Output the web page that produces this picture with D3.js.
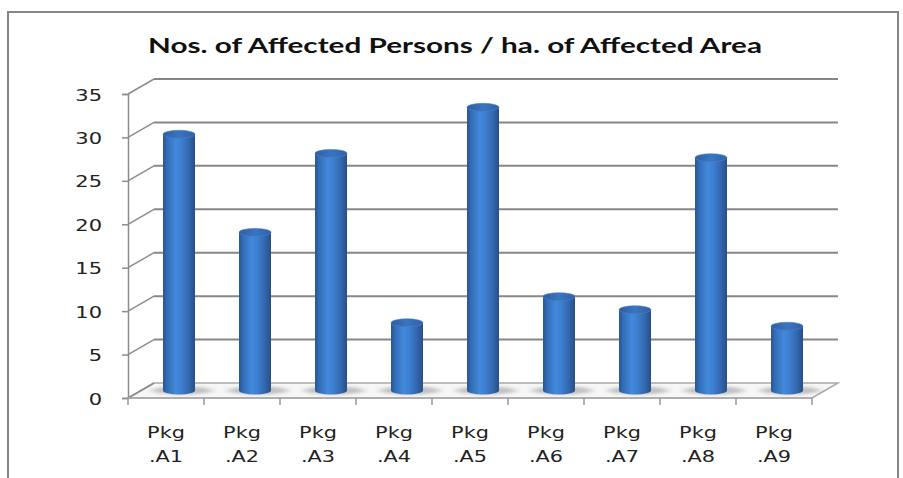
<!DOCTYPE html>
<html>
<head>
<meta charset="utf-8">
<script src="https://cdn.jsdelivr.net/npm/d3@7"></script>
<style>
  body { margin: 0; background: #fff; }
  svg { display: block; }
</style>
</head>
<body>
<div id="chart"></div>
<script>
// Chart data
const title = "Nos. of Affected Persons / ha. of Affected Area";
const categories = ["A1", "A2", "A3", "A4", "A5", "A6", "A7", "A8", "A9"];
const values = [29.5, 18.2, 27.3, 7.8, 32.6, 10.8, 9.3, 26.8, 7.4];
const yTicks = [0, 5, 10, 15, 20, 25, 30, 35];

// layout
let width = 903, height = 478;
let x0 = 128, x1 = 812;     // front floor edge
let yBase = 398, yTop = 94; // front axis 0 and 35
let dx = 26, dy = -15;      // depth offset of the back wall

let svg = d3.select("#chart").append("svg")
  .attr("width", width)
  .attr("height", height);

let defs = svg.append("defs");

// cylinder body shading
let body = defs.append("linearGradient").attr("id", "cyl").attr("x1", 0).attr("x2", 1);
[[0, "#2a5592"], [0.15, "#3470bb"], [0.4, "#4289dc"], [0.55, "#3e80d2"], [0.8, "#3368b0"], [1, "#274e88"]]
  .forEach(s => body.append("stop").attr("offset", s[0]).attr("stop-color", s[1]));

let cap = defs.append("linearGradient").attr("id", "cap").attr("x1", 0).attr("x2", 1);
[[0, "#2e5e9f"], [0.5, "#3a74c0"], [1, "#3062a6"]]
  .forEach(s => cap.append("stop").attr("offset", s[0]).attr("stop-color", s[1]));

defs.append("filter").attr("id", "blur")
  .attr("x", "-50%").attr("y", "-200%").attr("width", "200%").attr("height", "500%")
  .append("feGaussianBlur").attr("stdDeviation", "4 1.5");

// outer border
svg.append("rect")
  .attr("x", 8).attr("y", 12)
  .attr("width", 890).attr("height", 475)
  .attr("fill", "none")
  .attr("stroke", "#858585")
  .attr("stroke-width", 2);

// helper that stretches text horizontally like the reference
function stretch(sel, k) {
  sel.each(function() {
    let len = this.getComputedTextLength();
    d3.select(this).attr("textLength", len * k).attr("lengthAdjust", "spacingAndGlyphs");
  });
}

// title
svg.append("text")
  .attr("x", 455).attr("y", 53)
  .attr("text-anchor", "middle")
  .style("font-family", "Lato, 'Open Sans', sans-serif")
  .style("font-weight", "bold")
  .style("font-size", "20px")
  .attr("fill", "#111")
  .text(title)
  .attr("textLength", 614)
  .attr("lengthAdjust", "spacingAndGlyphs");

// scales
let yScale = d3.scaleLinear().domain([0, 35]).range([yBase, yTop]);
let xScale = d3.scaleBand().domain(categories).range([x0, x1]);

// floor
svg.append("path")
  .attr("d", `M${x0},${yBase} L${x1},${yBase} L${x1 + dx},${yBase + dy} L${x0 + dx},${yBase + dy} Z`)
  .attr("fill", "#f7f7f7")
  .attr("stroke", "#a9a9a9")
  .attr("stroke-width", 1.5);

// back wall gridlines and side wall diagonals
let grid = svg.append("g");
grid.selectAll("line.back")
  .data(yTicks.filter(d => d > 0))
  .join("line")
  .attr("class", "back")
  .attr("x1", x0 + dx).attr("x2", x1 + dx)
  .attr("y1", d => yScale(d) + dy).attr("y2", d => yScale(d) + dy)
  .attr("stroke", "#878787")
  .attr("stroke-width", 2);

grid.selectAll("line.side")
  .data(yTicks)
  .join("line")
  .attr("class", "side")
  .attr("x1", x0).attr("x2", x0 + dx)
  .attr("y1", d => yScale(d)).attr("y2", d => yScale(d) + dy)
  .attr("stroke", "#8c8c8c")
  .attr("stroke-width", 1.5);

// y axis
let yAxis = svg.append("g")
  .attr("transform", `translate(${x0},0)`)
  .call(d3.axisLeft(yScale).tickValues(yTicks).tickSize(6).tickPadding(20));
yAxis.select(".domain").attr("stroke", "#8c8c8c").attr("stroke-width", 1.5);
yAxis.selectAll(".tick line").attr("stroke", "#8c8c8c").attr("stroke-width", 1.5);
yAxis.selectAll(".tick text")
  .style("font-family", "'DejaVu Sans', sans-serif")
  .style("font-size", "15px")
  .attr("fill", "#222")
  .attr("dy", "0.4em")
  .call(stretch, 1.4);

// x axis ticks
let xAxis = svg.append("g")
  .attr("transform", `translate(0,${yBase})`);
xAxis.append("line")
  .attr("x1", x0).attr("x2", x1)
  .attr("stroke", "#a9a9a9").attr("stroke-width", 1.5);
xAxis.selectAll("line.tick")
  .data(d3.range(categories.length + 1))
  .join("line")
  .attr("class", "tick")
  .attr("x1", i => x0 + i * xScale.step())
  .attr("x2", i => x0 + i * xScale.step())
  .attr("y1", 0).attr("y2", 7)
  .attr("stroke", "#999").attr("stroke-width", 1.5);

// x labels, two lines each
let labels = xAxis.selectAll("g.lab")
  .data(categories)
  .join("g")
  .attr("class", "lab")
  .attr("transform", d => `translate(${xScale(d) + xScale.bandwidth() / 2},0)`);
labels.append("text").attr("y", 40).text("Pkg");
labels.append("text").attr("y", 64).text(d => "." + d);
labels.selectAll("text")
  .attr("text-anchor", "middle")
  .style("font-family", "'DejaVu Sans', sans-serif")
  .style("font-size", "16px")
  .attr("fill", "#222")
  .call(stretch, 1.3);

// cylinders
let r = 16, ry = 4;
let base = yBase + dy / 2;
let bars = svg.append("g").selectAll("g")
  .data(values)
  .join("g")
  .attr("transform", (d, i) => `translate(${xScale(categories[i]) + xScale.bandwidth() / 2 + dx / 2},0)`);

// floor shadow
bars.append("ellipse")
  .attr("cx", 3).attr("cy", base)
  .attr("rx", r + 14).attr("ry", 4)
  .attr("fill", "#8a8a8a")
  .attr("opacity", 0.5)
  .attr("filter", "url(#blur)");

bars.append("path")
  .attr("d", d => {
    let top = yScale(d) + dy / 2;
    return `M${-r},${top} L${-r},${base} A${r},${ry} 0 0 0 ${r},${base} L${r},${top} Z`;
  })
  .attr("fill", "url(#cyl)");

bars.append("ellipse")
  .attr("cx", 0)
  .attr("cy", d => yScale(d) + dy / 2)
  .attr("rx", r).attr("ry", ry)
  .attr("fill", "url(#cap)")
  .attr("stroke", "#4a82c8")
  .attr("stroke-width", 0.6);
</script>
</body>
</html>
